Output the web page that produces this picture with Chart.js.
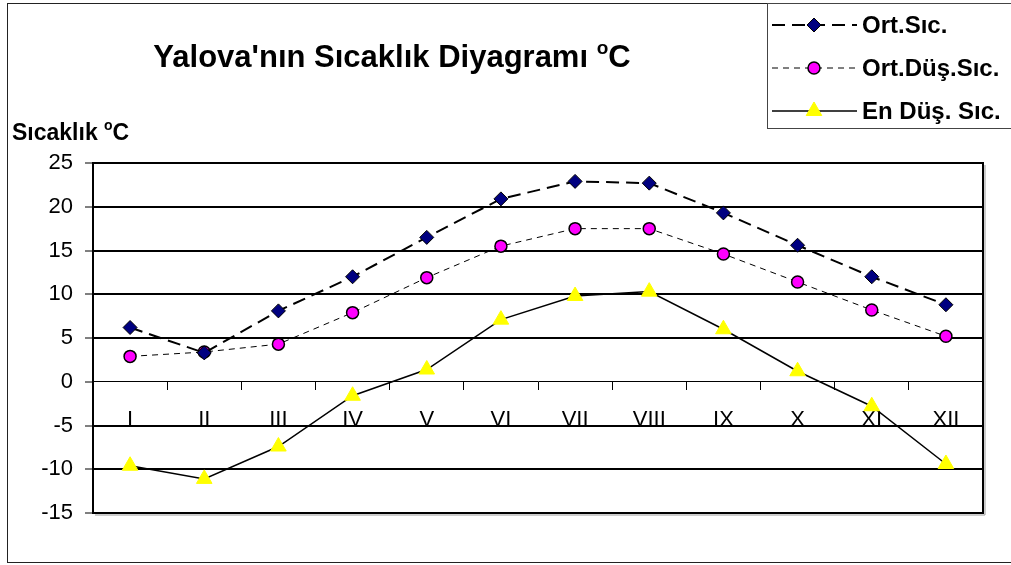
<!DOCTYPE html>
<html>
<head>
<meta charset="utf-8">
<script src="https://cdn.jsdelivr.net/npm/chart.js@4"></script>
<style>
  html, body { margin: 0; padding: 0; background: #fff; }
  canvas { display: block; }
</style>
</head>
<body>
<canvas id="tempChart" width="1011" height="565"></canvas>
<script>
var months = ["I", "II", "III", "IV", "V", "VI", "VII", "VIII", "IX", "X", "XI", "XII"]
var ortSic = [6.2, 3.3, 8.1, 12.0, 16.5, 20.9, 22.9, 22.7, 19.3, 15.6, 12.0, 8.8]
var ortDusSic = [2.9, 3.4, 4.3, 7.9, 11.9, 15.5, 17.5, 17.5, 14.6, 11.4, 8.2, 5.2]
var enDusSic = [-9.6, -11.1, -7.4, -1.6, 1.4, 7.1, 9.8, 10.3, 6.0, 1.2, -2.8, -9.4]
var yTicks = [-15, -10, -5, 0, 5, 10, 15, 20, 25]

var FONT = '"Liberation Sans", Arial, sans-serif'

// text with a raised small "o" before the final C
function drawDegreeText(ctx, x, y, before, size, align){
  ctx.font = 'bold ' + size + 'px ' + FONT
  var w1 = ctx.measureText(before).width
  var wC = ctx.measureText('C').width
  ctx.font = 'bold ' + Math.round(size * 0.62) + 'px ' + FONT
  var wo = ctx.measureText('o').width
  var total = w1 + wo + wC
  var sx = align == 'center' ? x - total / 2 : x
  ctx.fillStyle = '#000'
  ctx.textBaseline = 'alphabetic'
  ctx.textAlign = 'left'
  ctx.font = 'bold ' + size + 'px ' + FONT
  ctx.fillText(before, sx, y)
  ctx.font = 'bold ' + Math.round(size * 0.62) + 'px ' + FONT
  ctx.fillText('o', sx + w1, y - size * 0.42)
  ctx.font = 'bold ' + size + 'px ' + FONT
  ctx.fillText('C', sx + w1 + wo, y)
}

var framePlugin = {
  id: 'frame',
  beforeDraw: function(chart){
    var ctx = chart.ctx
    ctx.save()
    ctx.fillStyle = '#fff'
    ctx.fillRect(0, 0, chart.width, chart.height)
    ctx.restore()
  },
  afterDraw: function(chart){
    var ctx = chart.ctx
    var a = chart.chartArea
    ctx.save()
    // outer border
    ctx.strokeStyle = '#222'
    ctx.lineWidth = 1
    ctx.strokeRect(7.5, 3.5, chart.width, 559)
    // plot area frame + shadow
    ctx.strokeStyle = '#999'
    ctx.lineWidth = 1
    ctx.beginPath()
    ctx.moveTo(a.right + 2, a.top + 2)
    ctx.lineTo(a.right + 2, a.bottom + 2)
    ctx.lineTo(a.left + 2, a.bottom + 2)
    ctx.stroke()
    ctx.strokeStyle = '#000'
    ctx.lineWidth = 2
    ctx.strokeRect(a.left, a.top, a.right - a.left, a.bottom - a.top)

    // titles
    drawDegreeText(ctx, 392, 67, "Yalova'nın Sıcaklık Diyagramı ", 31, 'center')
    drawDegreeText(ctx, 12, 140, "Sıcaklık ", 23, 'left')

    // legend box
    ctx.strokeStyle = '#444'
    ctx.lineWidth = 1
    ctx.fillStyle = '#fff'
    ctx.fillRect(767.5, 3.5, chart.width, 125)
    ctx.strokeRect(767.5, 3.5, chart.width, 125)
    var rows = [25, 68, 111]
    chart.data.datasets.forEach(function(ds, i){
      var y = rows[i]
      ctx.save()
      ctx.strokeStyle = ds.borderColor
      ctx.lineWidth = ds.borderWidth
      ctx.setLineDash(ds.borderDash || [])
      ctx.beginPath()
      ctx.moveTo(772, y)
      ctx.lineTo(857, y)
      ctx.stroke()
      ctx.restore()
      ctx.save()
      ctx.fillStyle = ds.pointBackgroundColor
      ctx.strokeStyle = ds.pointBorderColor
      ctx.lineWidth = ds.pointBorderWidth
      Chart.helpers.drawPoint(ctx, {pointStyle: ds.pointStyle, radius: ds.pointRadius, borderWidth: ds.pointBorderWidth, rotation: 0}, 814, y)
      ctx.restore()
      ctx.fillStyle = '#000'
      ctx.font = 'bold 24px ' + FONT
      ctx.textAlign = 'left'
      ctx.textBaseline = 'middle'
      ctx.fillText(ds.label, 862, y + 1)
    })
    ctx.restore()
  }
}

var ctx = document.getElementById('tempChart').getContext('2d')
var myChart = new Chart(ctx, {
  type: 'line',
  plugins: [framePlugin],
  data: {
    labels: months,
    datasets: [{
      label: 'Ort.Sıc.',
      data: ortSic,
      borderColor: '#000',
      borderWidth: 2,
      borderDash: [13, 7],
      pointStyle: 'rectRot',
      pointRadius: 7,
      pointBackgroundColor: '#000080',
      pointBorderColor: '#000',
      pointBorderWidth: 1
    }, {
      label: 'Ort.Düş.Sıc.',
      data: ortDusSic,
      borderColor: '#000',
      borderWidth: 1,
      borderDash: [6, 5],
      pointStyle: 'circle',
      pointRadius: 6,
      pointBackgroundColor: '#ff00ff',
      pointBorderColor: '#000',
      pointBorderWidth: 1.5
    }, {
      label: 'En Düş. Sıc.',
      data: enDusSic,
      borderColor: '#000',
      borderWidth: 1.5,
      borderDash: [],
      pointStyle: 'triangle',
      pointRadius: 9,
      pointBackgroundColor: '#ffff00',
      pointBorderColor: '#ffff00',
      pointBorderWidth: 1
    }]
  },
  options: {
    responsive: false,
    animation: false,
    tension: 0,
    layout: {
      padding: {top: 163, right: 28, bottom: 52, left: 0}
    },
    plugins: {
      legend: { display: false },
      title: { display: false },
      tooltip: { enabled: false }
    },
    scales: {
      x: {
        type: 'category',
        position: {y: 0},
        offset: true,
        grid: {
          offset: true,
          drawOnChartArea: false,
          drawTicks: true,
          tickLength: 8,
          color: '#000',
          lineWidth: 1
        },
        border: { display: true, color: '#000', width: 1 },
        ticks: {
          color: '#000',
          padding: 17,
          font: { family: FONT, size: 22 }
        }
      },
      y: {
        min: -15,
        max: 25,
        afterFit: function(scale){ scale.width = 93 },
        afterBuildTicks: function(scale){
          scale.ticks = yTicks.map(function(v){ return {value: v} })
        },
        grid: {
          color: '#000',
          lineWidth: function(c){ return c.tick && c.tick.value == 0 ? 0 : 2 },
          tickLength: 8,
          tickWidth: 1,
          tickColor: '#000'
        },
        border: { display: true, color: '#000', width: 2 },
        ticks: {
          color: '#000',
          padding: 12,
          font: { family: FONT, size: 22 }
        }
      }
    }
  }
});
</script>
</body>
</html>
